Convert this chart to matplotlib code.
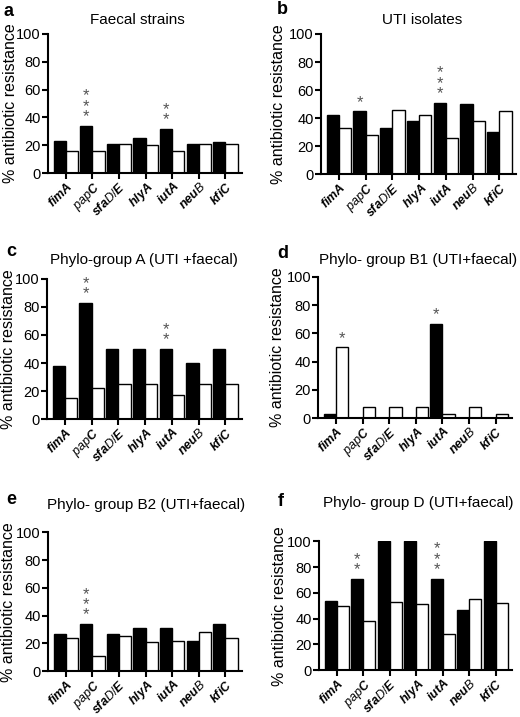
import matplotlib
matplotlib.use("Agg")
import matplotlib.pyplot as plt
import numpy as np

plt.rcParams['font.family'] = ['Liberation Sans', 'DejaVu Sans']
plt.rcParams['mathtext.fontset'] = 'custom'
plt.rcParams['mathtext.rm'] = 'Liberation Sans'
plt.rcParams['mathtext.it'] = 'Liberation Sans:italic'
plt.rcParams['mathtext.bf'] = 'Liberation Sans:bold'
plt.rcParams['mathtext.bfit'] = 'Liberation Sans:bold:italic'

# ============================
# Data
# ============================
genes = [r"$\mathbfit{fimA}$", r"$\mathit{pap}\mathbfit{C}$", r"$\mathbfit{sfa}\mathit{D/}\mathbfit{E}$",
         r"$\mathbfit{hlyA}$", r"$\mathbfit{iutA}$", r"$\mathbfit{neu}\mathit{B}$", r"$\mathbfit{kfiC}$"]

a_black = [23, 34, 21, 25, 32, 21, 22]
a_white = [16, 16, 21, 20, 16, 21, 21]
b_black = [42, 45, 33, 38, 51, 50, 30]
b_white = [33, 28, 46, 42, 26, 38, 45]
c_black = [38, 83, 50, 50, 50, 40, 50]
c_white = [15, 22, 25, 25, 17, 25, 25]
d_black = [3, 0, 0, 0, 67, 0, 0]
d_white = [50, 8, 8, 8, 3, 8, 3]
e_black = [27, 34, 27, 31, 31, 22, 34]
e_white = [24, 11, 25, 21, 22, 28, 24]
f_black = [54, 71, 100, 100, 71, 47, 100]
f_white = [50, 38, 53, 51, 28, 55, 52]

# stars: (gene index, which bar 0=black 1=white, count)
a_stars = [(1, 0, 3), (4, 0, 2)]
b_stars = [(1, 0, 1), (4, 0, 3)]
c_stars = [(1, 0, 2), (4, 0, 2)]
d_stars = [(0, 1, 1), (4, 0, 1)]
e_stars = [(1, 0, 3)]
f_stars = [(1, 0, 2), (4, 0, 3)]

# letter, title, black, white, stars, axes rect, title px, letter px, ylabel right edge px
panels = [
    ("a", "Faecal strains", a_black, a_white, a_stars, [0.092, 0.7587, 0.373, 0.194], (137, 20), (4, 12), 18),
    ("b", "UTI isolates", b_black, b_white, b_stars, [0.617, 0.757, 0.375, 0.1956], (422, 20), (277, 10), 286),
    ("c", "Phylo-group A (UTI +faecal)", c_black, c_white, c_stars, [0.090, 0.4156, 0.375, 0.1953], (144, 260), (6, 252), 16),
    ("d", "Phylo- group B1 (UTI+faecal)", d_black, d_white, d_stars, [0.6115, 0.417, 0.3735, 0.1967], (418, 260), (277, 253), 285),
    ("e", "Phylo- group B2 (UTI+faecal)", e_black, e_white, e_stars, [0.092, 0.064, 0.373, 0.1936], (146, 505), (6, 500), 16),
    ("f", "Phylo- group D (UTI+faecal)", f_black, f_white, f_stars, [0.613, 0.0654, 0.372, 0.1797], (418, 503), (278, 502), 287),
]

W, H = 520, 717
fig = plt.figure(figsize=(5.2, 7.17), dpi=100)
x = np.arange(len(genes))
w = 0.46

for letter, title, blk, wht, stars, rect, tpos, lpos, ylx in panels:
    ax = fig.add_axes(rect)
    ax.bar(x - w / 2, blk, w, color="black", edgecolor="black", linewidth=1)
    ax.bar(x + w / 2, wht, w, color="white", edgecolor="black", linewidth=1)
    for gi, side, n in stars:
        xs = gi - w / 2 if side == 0 else gi + w / 2
        top = blk[gi] if side == 0 else wht[gi]
        ax.text(xs, top + 1, "\n".join(["*"] * n), ha="center", va="bottom",
                fontsize=12, color="#555555", linespacing=0.62)
    ax.set_xlim(-0.68, 6.62)
    ax.set_ylim(0, 100)
    ax.set_yticks([0, 20, 40, 60, 80, 100])
    ax.spines["top"].set_visible(False)
    ax.spines["right"].set_visible(False)
    ax.spines["left"].set_linewidth(1.5)
    ax.spines["bottom"].set_linewidth(1.5)
    ax.tick_params(axis="y", length=4, width=1.5, labelsize=10.5, pad=1)
    ax.tick_params(axis="x", length=4, width=1.5, pad=1)
    ax.set_xticks(x)
    ax.set_xticklabels(genes, rotation=45, ha="right", rotation_mode="anchor", fontsize=9)
    ax.set_ylabel("% antibiotic resistance", fontsize=11.5)
    ax.yaxis.set_label_coords((ylx - rect[0] * W) / (rect[2] * W), 0.5)
    fig.text(tpos[0] / W, 1 - tpos[1] / H, title, ha="center", va="center", fontsize=11)
    fig.text(lpos[0] / W, 1 - lpos[1] / H, letter, ha="left", va="center", fontsize=13, fontweight="bold")

fig.savefig("out.png", dpi=100)
